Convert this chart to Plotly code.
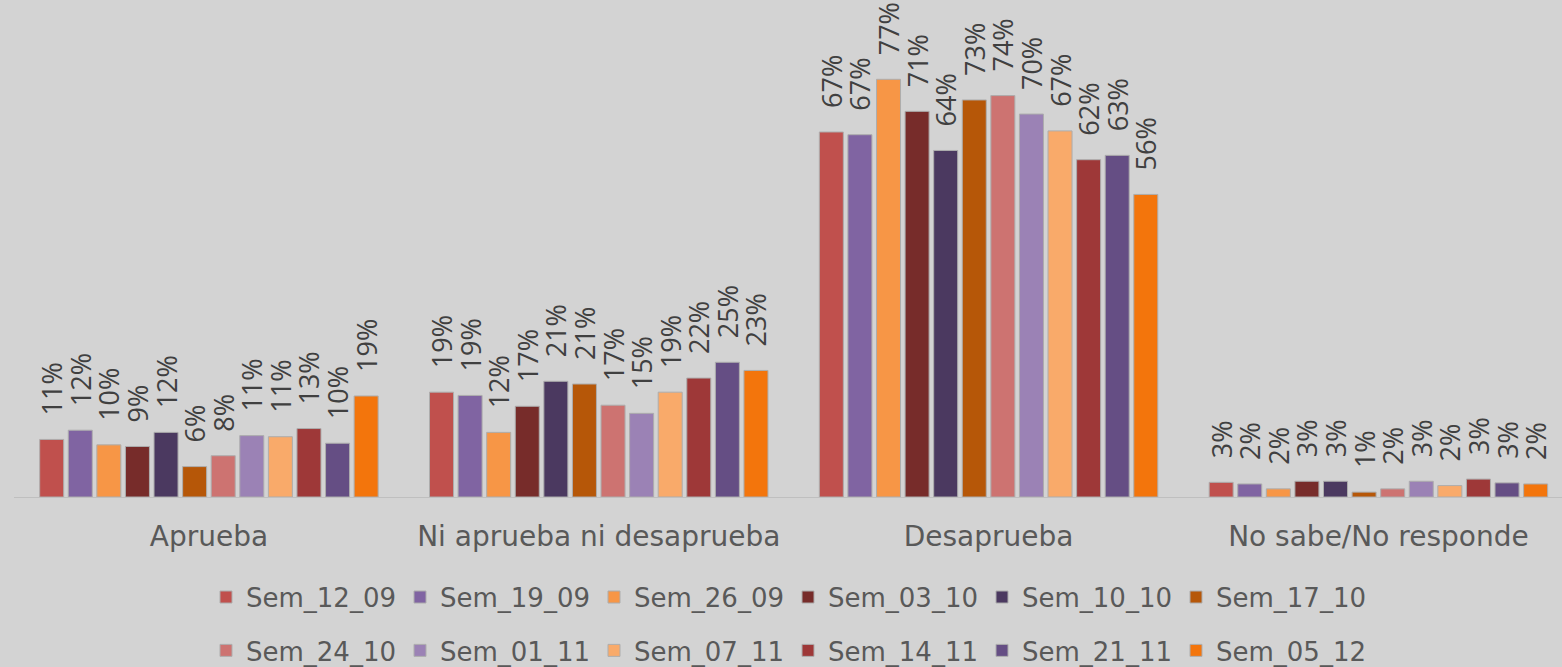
import plotly.graph_objects as go

categories = ["Aprueba", "Ni aprueba ni desaprueba", "Desaprueba", "No sabe/No responde"]
series_names = ["Sem_12_09", "Sem_19_09", "Sem_26_09", "Sem_03_10", "Sem_10_10", "Sem_17_10",
                "Sem_24_10", "Sem_01_11", "Sem_07_11", "Sem_14_11", "Sem_21_11", "Sem_05_12"]
# values in percent, per series: [Aprueba, Ni..., Desaprueba, No sabe]
sem_12_09 = [10.6, 19.3, 67.2, 2.7]
sem_19_09 = [12.3, 18.7, 66.7, 2.4]
sem_26_09 = [9.6, 11.9, 76.9, 1.5]
sem_03_10 = [9.3, 16.7, 71.0, 2.9]
sem_10_10 = [11.9, 21.3, 63.8, 2.9]
sem_17_10 = [5.6, 20.8, 73.1, 0.9]
sem_24_10 = [7.6, 16.9, 73.9, 1.5]
sem_01_11 = [11.3, 15.4, 70.5, 2.9]
sem_07_11 = [11.1, 19.3, 67.4, 2.1]
sem_14_11 = [12.6, 21.9, 62.1, 3.3]
sem_21_11 = [9.9, 24.8, 62.9, 2.6]
sem_05_12 = [18.6, 23.3, 55.7, 2.4]

all_values = [sem_12_09, sem_19_09, sem_26_09, sem_03_10, sem_10_10, sem_17_10,
              sem_24_10, sem_01_11, sem_07_11, sem_14_11, sem_21_11, sem_05_12]
colors = ["#C0504D", "#8064A2", "#F79646", "#772C2A", "#4B3960", "#B65708",
          "#CD7371", "#9B82B5", "#F9AA6A", "#9E3838", "#654E84", "#F3750C"]

LABEL_FONT = "Open Sans, sans-serif"
TEXT_FONT = "DejaVu Sans, sans-serif"
PAD = "\u00a0\u00a0\u00a0"
fig = go.Figure()
for i, (name, vals, col) in enumerate(zip(series_names, all_values, colors)):
    fig.add_trace(go.Bar(
        x=categories, y=vals, name=name,
        marker=dict(color=col, line=dict(color="#ADADAD", width=1)),
        text=[f"{PAD}{round(v)}%" for v in vals],
        textposition="outside", textangle=-90,
        textfont=dict(family=LABEL_FONT, size=27, color="#404040"),
        cliponaxis=False, constraintext="none",
        legend="legend" if i < 6 else "legend2",
    ))

legend_common = dict(orientation="h", x=0.5, xanchor="center", yanchor="top",
                     yref="container",
                     font=dict(family=TEXT_FONT, size=26, color="#595959"),
                     bgcolor="rgba(0,0,0,0)", itemwidth=30,
                     entrywidth=149, entrywidthmode="pixels")

fig.update_layout(
    width=1562, height=667,
    paper_bgcolor="#D3D3D3", plot_bgcolor="#D3D3D3",
    margin=dict(l=14, r=0, t=0, b=170, autoexpand=False),
    barmode="group", bargap=0.12, bargroupgap=0.16,
    font=dict(family=TEXT_FONT, color="#595959"),
    xaxis=dict(range=[-0.5, 3.471], showgrid=False, showline=True, linecolor="#BFBFBF",
               linewidth=1, ticks="", ticklabelstandoff=14,
               tickfont=dict(family=TEXT_FONT, size=28, color="#595959")),
    yaxis=dict(range=[0, 91.5], visible=False, showgrid=False, zeroline=False),
    legend=dict(y=0.14, **legend_common),
    legend2=dict(y=0.06, **legend_common),
    showlegend=True,
)
fig.write_html("out.html", post_script="document.body.style.margin='0';",
               config={"displayModeBar": False})
